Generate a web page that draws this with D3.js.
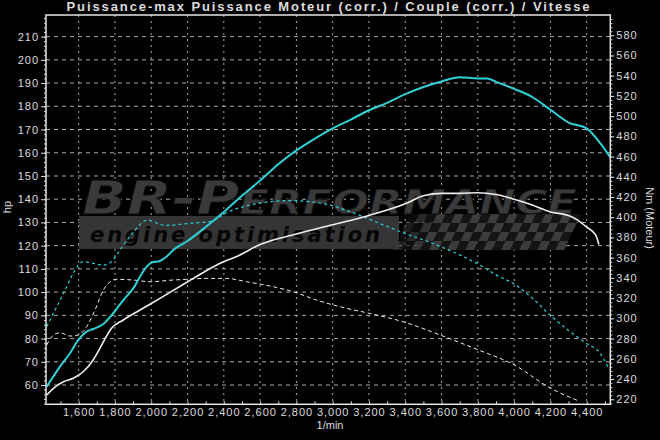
<!DOCTYPE html>
<html><head><meta charset="utf-8">
<script src="https://cdn.jsdelivr.net/npm/d3@7"></script>
<style>html,body{margin:0;padding:0;background:#000;}svg{display:block;}</style>
</head><body>
<script>
// ---------- data ----------
const titleText = "Puissance-max Puissance Moteur (corr.) / Couple (corr.) / Vitesse";
const xTicks = [1600,1800,2000,2200,2400,2600,2800,3000,3200,3400,3600,3800,4000,4200,4400];
const hpTicks = [60,70,80,90,100,110,120,130,140,150,160,170,180,190,200,210];
const nmTicks = [220,240,260,280,300,320,340,360,380,400,420,440,460,480,500,520,540,560,580];

// Cyan solid: power (tuned), hp
const rpmHpTuned = [1424,1497,1552,1598,1644,1680,1736,1791,1846,1901,1938,1975,2002,2048,2085,2121,2200,2300,2400,2500,2600,2700,2800,2900,3000,3100,3200,3300,3400,3500,3600,3700,3800,3850,3900,4000,4100,4200,4300,4400,4473,4528];
const hpTuned    = [59.3,67.9,73.7,79.4,83.0,84.1,86.3,90.9,96.6,101.6,106.6,111.0,112.7,113.4,115.3,118.1,122,128,134.5,141.5,148,155,161,166,170.5,174.3,178.3,181.5,185.2,188.3,190.7,192.5,192,192,190.5,187.5,184,178.5,173,170.5,164.2,158.2];

// White solid: power (stock), hp
const rpmHpStock = [1424,1461,1516,1570,1625,1680,1717,1754,1781,1846,1938,2048,2140,2232,2361,2489,2600,2800,3000,3200,3400,3500,3600,3700,3800,3900,4000,4100,4200,4300,4350,4400,4450,4467];
const hpStock    = [55.7,58.6,61.4,62.9,65.7,70.8,75.8,81.1,84.4,88.0,92.3,97.3,101.6,105.9,111.7,116,120.5,125,129,133,138,141.5,142.5,142.5,142.8,142,140,137.5,134.5,133,131,128,124.5,120.5];

// Cyan dashed: torque (tuned), Nm
const rpmNmTuned = [1424,1461,1516,1570,1598,1625,1680,1736,1781,1827,1900,1977,2076,2213,2331,2410,2568,2765,2961,3119,3257,3414,3552,3709,3828,3900,4000,4100,4200,4300,4400,4473,4517];
const nmTuned    = [292,305,324.7,344.5,352.7,356,354.4,352.7,356,367.5,385,397,392,394,396,404,413,416.5,413,404,394,383,374,362,351,343,334,320,303,288,275,265.8,252];

// White dashed: torque (stock), Nm
const rpmNmStock = [1424,1461,1497,1552,1598,1644,1690,1736,1773,1800,1901,1993,2121,2195,2305,2415,2525,2672,2783,2911,3040,3200,3400,3600,3800,4000,4200,4360];
const nmStock    = [273.7,283.5,285.8,282.5,283.5,291.7,308.2,328,336.2,338.6,337.9,336.2,337.9,338.6,339.5,339.5,336.2,331.3,326.3,318.1,311.5,305,296,283,269,254,231,218];

// ---------- chart ----------
const W = 660, H = 440;
const svg = d3.select("body").append("svg").attr("width", W).attr("height", H)
  .style("background", "#000");
const L = 46, R = 610.3, T = 15, B = 404.3;
const x = d3.scaleLinear().domain([1420, 4530]).range([L, R]);
const yL = d3.scaleLinear().domain([51.7, 219.3]).range([B, T]);
const yR = d3.scaleLinear().domain([215, 600]).range([B, T]);
const font = "'Liberation Sans', Arial, sans-serif";
const txt = "#dcdcdc";

svg.append("rect").attr("width", W).attr("height", H).attr("fill", "#000");

// Title
svg.append("text").attr("x", 329).attr("y", 11).attr("text-anchor", "middle")
  .attr("font-family", font).attr("font-weight", "bold").attr("font-size", 13)
  .attr("letter-spacing", "1.9px").attr("fill", txt).text(titleText);

// clip
svg.append("clipPath").attr("id", "clip").append("rect")
  .attr("x", L).attr("y", T).attr("width", R - L).attr("height", B - T);

// grid
const grid = svg.append("g").attr("clip-path", "url(#clip)");
grid.selectAll("line.h").data(hpTicks).join("line")
  .attr("x1", L).attr("x2", R).attr("y1", d => yL(d)).attr("y2", d => yL(d))
  .attr("stroke", "#a8a8a8").attr("stroke-width", 1).attr("stroke-dasharray", "4,4");
grid.selectAll("line.v").data(xTicks).join("line")
  .attr("x1", d => x(d)).attr("x2", d => x(d)).attr("y1", T).attr("y2", B)
  .attr("stroke", "#a8a8a8").attr("stroke-width", 1).attr("stroke-dasharray", "2,4");

// watermark (logo)
const wm = svg.append("g");
wm.append("rect").attr("x", 79).attr("y", 216).attr("width", 320).attr("height", 33).attr("fill", "#353535");
const chk = wm.append("g").attr("transform", "translate(392,214) skewX(-25)");
const cs = 9;
for (let i = 0; i < 19; i++) {
  for (let j = 0; j < 4; j++) {
    chk.append("rect").attr("x", i * cs + 18).attr("y", j * cs).attr("width", cs).attr("height", cs)
      .attr("fill", (i + j) % 2 ? "#3c3c3c" : "#141414").attr("opacity", i < 3 ? 0.5 + i * 0.17 : 1);
  }
}
wm.append("text").attr("x", 90).attr("y", 242)
  .attr("font-family", "'DejaVu Sans', sans-serif").attr("font-weight", "bold").attr("font-style", "italic")
  .attr("font-size", 21).attr("fill", "#050505")
  .attr("textLength", 290).attr("lengthAdjust", "spacing").text("engine optimisation");
const big = wm.append("text").attr("x", 82).attr("y", 214)
  .attr("font-family", "'DejaVu Sans', sans-serif").attr("font-weight", "bold").attr("font-style", "italic")
  .attr("fill", "#3a3a3a").attr("stroke", "#0a0a0a").attr("stroke-width", 1)
  .attr("textLength", 495).attr("lengthAdjust", "spacingAndGlyphs");
big.append("tspan").attr("font-size", 46).text("BR-P");
big.append("tspan").attr("font-size", 34).text("ERFORMANCE");

// curves
const plot = svg.append("g").attr("clip-path", "url(#clip)");
function series(xs, ys) { return xs.map((v, i) => [v, ys[i]]); }
const lineL = d3.line().x(d => x(d[0])).y(d => yL(d[1])).curve(d3.curveMonotoneX);
const lineR = d3.line().x(d => x(d[0])).y(d => yR(d[1])).curve(d3.curveMonotoneX);
const cyan = "#2fd0d6", white = "#eeeeee";
plot.append("path").attr("d", lineR(series(rpmNmStock, nmStock))).attr("fill", "none")
  .attr("stroke", white).attr("stroke-width", 1).attr("stroke-dasharray", "4,3");
plot.append("path").attr("d", lineR(series(rpmNmTuned, nmTuned))).attr("fill", "none")
  .attr("stroke", cyan).attr("stroke-width", 1.2).attr("stroke-dasharray", "3,3");
plot.append("path").attr("d", lineL(series(rpmHpStock, hpStock))).attr("fill", "none")
  .attr("stroke", white).attr("stroke-width", 1.6);
plot.append("path").attr("d", lineL(series(rpmHpTuned, hpTuned))).attr("fill", "none")
  .attr("stroke", cyan).attr("stroke-width", 2);

// frame
svg.append("rect").attr("x", L).attr("y", T).attr("width", R - L).attr("height", B - T)
  .attr("fill", "none").attr("stroke", "#e6e6e6").attr("stroke-width", 1.5);

// axes
const axL = d3.axisLeft(yL).tickValues(hpTicks).tickSize(5).tickPadding(2);
svg.append("g").attr("transform", `translate(${L},0)`).call(axL);
const axLm = d3.axisLeft(yL).tickValues(d3.range(52, 219, 2)).tickSize(2).tickFormat("");
svg.append("g").attr("transform", `translate(${L},0)`).call(axLm);

const axR = d3.axisRight(yR).tickValues(nmTicks).tickSize(4).tickPadding(2);
svg.append("g").attr("transform", `translate(${R},0)`).call(axR);
const axRm = d3.axisRight(yR).tickValues(d3.range(216, 600, 4)).tickSize(2).tickFormat("");
svg.append("g").attr("transform", `translate(${R},0)`).call(axRm);

const axB = d3.axisBottom(x).tickValues(xTicks).tickSize(0).tickPadding(4).tickFormat(d3.format(","));
svg.append("g").attr("transform", `translate(0,${B})`).call(axB);
const axBm = d3.axisTop(x).tickValues(d3.range(1500, 4530, 100)).tickSize(3).tickFormat("");
svg.append("g").attr("transform", `translate(0,${B})`).call(axBm);

svg.selectAll(".domain").remove();
svg.selectAll(".tick line").attr("stroke", "#dcdcdc");
svg.selectAll(".tick text").attr("fill", txt).attr("font-family", font).attr("font-size", 11)
  .attr("letter-spacing", "1px");

// axis titles
svg.append("text").attr("transform", "translate(11,207) rotate(-90)").attr("text-anchor", "middle")
  .attr("font-family", font).attr("font-size", 11).attr("fill", txt).text("hp");
svg.append("text").attr("transform", "translate(646,218) rotate(90)").attr("text-anchor", "middle")
  .attr("font-family", font).attr("font-size", 11).attr("fill", txt).text("Nm (Moteur)");
svg.append("text").attr("x", 330).attr("y", 429).attr("text-anchor", "middle")
  .attr("font-family", font).attr("font-size", 11).attr("fill", txt).text("1/min");
</script>
</body></html>
